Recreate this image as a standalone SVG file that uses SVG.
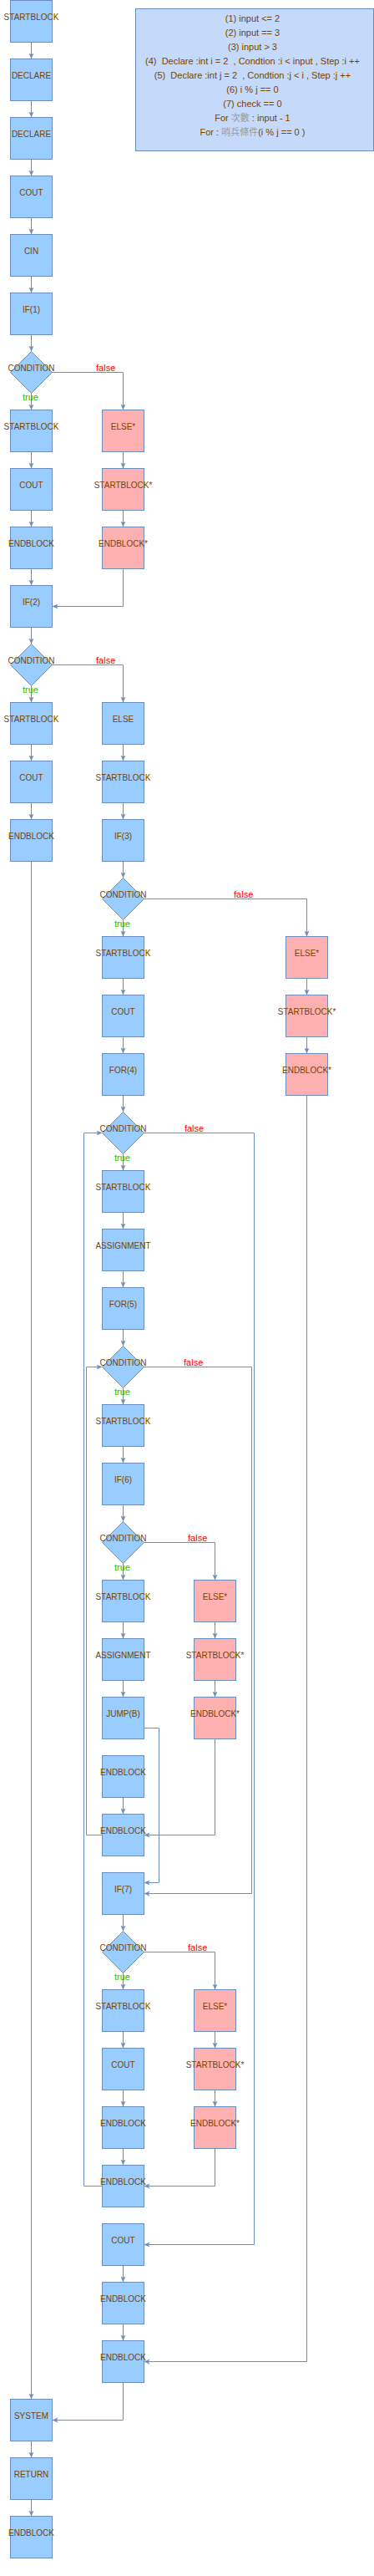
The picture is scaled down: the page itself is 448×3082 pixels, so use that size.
<svg xmlns="http://www.w3.org/2000/svg" width="448" height="3082" viewBox="0 0 448 3082">
<style>
.b{fill:#99ccff;stroke:#6c8ebf;stroke-width:1}
.p{fill:#ffb0b0;stroke:#6c8ebf;stroke-width:1}
.t{font-family:"Liberation Sans",Arial,sans-serif;font-size:10px;fill:#774400;text-anchor:middle}
.i{font-family:"Liberation Sans","Noto Sans CJK TC",sans-serif;font-size:11px;fill:#774400;text-anchor:middle;white-space:pre}
.cjk{fill:#9a9a9a}
.tr{font-family:"Liberation Sans",Arial,sans-serif;font-size:11px;fill:#00cc00;text-anchor:middle}
.fa{font-family:"Liberation Sans",Arial,sans-serif;font-size:11px;fill:#ff0000;text-anchor:middle}
.e{fill:none;stroke:#6c8ebf;stroke-width:1;marker-end:url(#a)}
</style>
<defs>
<marker id="a" markerWidth="7" markerHeight="7" viewBox="0 0 7 7" refX="7" refY="3.5" orient="auto" markerUnits="userSpaceOnUse">
<path d="M0,0.5 L7,3.5 L0,6.5 L1.75,3.5 Z" fill="#6c8ebf"/>
</marker>
</defs>
<rect width="448" height="3082" fill="#ffffff"/>

<g id="info">
<rect x="162.5" y="10.5" width="285" height="170" fill="#c5d9fb" stroke="#6c8ebf"/>
<text class="i" x="302.5" y="26">(1) input &lt;= 2</text>
<text class="i" x="302.5" y="43">(2) input == 3</text>
<text class="i" x="302.5" y="60">(3) input &gt; 3</text>
<text class="i" x="302.5" y="77">(4)  Declare :int i = 2  , Condtion :i &lt; input , Step :i ++</text>
<text class="i" x="302.5" y="94">(5)  Declare :int j = 2  , Condtion :j &lt; i , Step :j ++</text>
<text class="i" x="302.5" y="111">(6) i % j == 0</text>
<text class="i" x="302.5" y="128">(7) check == 0</text>
<text class="i" x="302.5" y="145">For <tspan class="cjk">次數</tspan> : input - 1</text>
<text class="i" x="302.5" y="162">For : <tspan class="cjk">哨兵條件</tspan>(i % j == 0 )</text>
</g>

<g id="edges">
<path class="e" d="M37.5 50.5V70.5"/>
<path class="e" d="M37.5 120.5V140.5"/>
<path class="e" d="M37.5 190.5V210.5"/>
<path class="e" d="M37.5 260.5V280.5"/>
<path class="e" d="M37.5 330.5V350.5"/>
<path class="e" d="M37.5 400.5V420.5"/>
<path class="e" d="M37.5 470.5V490.5"/>
<path class="e" d="M37.5 540.5V560.5"/>
<path class="e" d="M37.5 610.5V630.5"/>
<path class="e" d="M37.5 680.5V700.5"/>
<path class="e" d="M37.5 750.5V770.5"/>
<path class="e" d="M37.5 820.5V840.5"/>
<path class="e" d="M37.5 890.5V910.5"/>
<path class="e" d="M37.5 960.5V980.5"/>
<path class="e" d="M37.5 1030.5V2870.5"/>
<path class="e" d="M37.5 2920.5V2940.5"/>
<path class="e" d="M37.5 2990.5V3010.5"/>
<path class="e" d="M62.5 445.5H147.5V490.5"/>
<path class="e" d="M147.5 540.5V560.5"/>
<path class="e" d="M147.5 610.5V630.5"/>
<path class="e" d="M147.5 680.5V725.5H62.5"/>
<path class="e" d="M62.5 795.5H147.5V840.5"/>
<path class="e" d="M147.5 890.5V910.5"/>
<path class="e" d="M147.5 960.5V980.5"/>
<path class="e" d="M147.5 1030.5V1050.5"/>
<path class="e" d="M147.5 1100.5V1120.5"/>
<path class="e" d="M147.5 1170.5V1190.5"/>
<path class="e" d="M147.5 1240.5V1260.5"/>
<path class="e" d="M147.5 1310.5V1330.5"/>
<path class="e" d="M147.5 1380.5V1400.5"/>
<path class="e" d="M147.5 1450.5V1470.5"/>
<path class="e" d="M147.5 1520.5V1540.5"/>
<path class="e" d="M147.5 1590.5V1610.5"/>
<path class="e" d="M147.5 1660.5V1680.5"/>
<path class="e" d="M147.5 1730.5V1750.5"/>
<path class="e" d="M147.5 1800.5V1820.5"/>
<path class="e" d="M147.5 1870.5V1890.5"/>
<path class="e" d="M147.5 1940.5V1960.5"/>
<path class="e" d="M147.5 2010.5V2030.5"/>
<path class="e" d="M147.5 2150.5V2170.5"/>
<path class="e" d="M147.5 2290.5V2310.5"/>
<path class="e" d="M147.5 2360.5V2380.5"/>
<path class="e" d="M147.5 2430.5V2450.5"/>
<path class="e" d="M147.5 2500.5V2520.5"/>
<path class="e" d="M147.5 2570.5V2590.5"/>
<path class="e" d="M147.5 2710.5V2730.5"/>
<path class="e" d="M147.5 2780.5V2800.5"/>
<path class="e" d="M172.5 1075.5H367.5V1120.5"/>
<path class="e" d="M367.5 1170.5V1190.5"/>
<path class="e" d="M367.5 1240.5V1260.5"/>
<path class="e" d="M367.5 1310.5V2825.5H172.5"/>
<path class="e" d="M172.5 1355.5H304.5V2685.5H172.5"/>
<path class="e" d="M172.5 1635.5H301.5V2265.5H172.5"/>
<path class="e" d="M172.5 1845.5H257.5V1890.5"/>
<path class="e" d="M257.5 1940.5V1960.5"/>
<path class="e" d="M257.5 2010.5V2030.5"/>
<path class="e" d="M257.5 2080.5V2195.5H172.5"/>
<path class="e" d="M172.5 2067.5H190.5V2252.5H172.5"/>
<path class="e" d="M122.5 2195.5H103.5V1635.5H122.5"/>
<path class="e" d="M172.5 2335.5H257.5V2380.5"/>
<path class="e" d="M257.5 2430.5V2450.5"/>
<path class="e" d="M257.5 2500.5V2520.5"/>
<path class="e" d="M257.5 2570.5V2615.5H172.5"/>
<path class="e" d="M122.5 2615.5H100.5V1355.5H122.5"/>
<path class="e" d="M147.5 2850.5V2895.5H62.5"/>
</g>

<g id="edge-labels">
<text class="tr" x="36.5" y="479">true</text>
<text class="tr" x="36.5" y="829">true</text>
<text class="tr" x="146.5" y="1109">true</text>
<text class="tr" x="146.5" y="1389">true</text>
<text class="tr" x="146.5" y="1669">true</text>
<text class="tr" x="146.5" y="1879">true</text>
<text class="tr" x="146.5" y="2369">true</text>
<text class="fa" x="126.7" y="444">false</text>
<text class="fa" x="126.7" y="794">false</text>
<text class="fa" x="291.7" y="1074">false</text>
<text class="fa" x="232.5" y="1354">false</text>
<text class="fa" x="231.7" y="1634">false</text>
<text class="fa" x="236.7" y="1844">false</text>
<text class="fa" x="236.7" y="2334">false</text>
</g>

<g id="n0"><rect class="b" x="12.5" y="0.5" width="50" height="50"/><text class="t" x="37.5" y="24">STARTBLOCK</text></g>
<g id="n1"><rect class="b" x="12.5" y="70.5" width="50" height="50"/><text class="t" x="37.5" y="94">DECLARE</text></g>
<g id="n2"><rect class="b" x="12.5" y="140.5" width="50" height="50"/><text class="t" x="37.5" y="164">DECLARE</text></g>
<g id="n3"><rect class="b" x="12.5" y="210.5" width="50" height="50"/><text class="t" x="37.5" y="234">COUT</text></g>
<g id="n4"><rect class="b" x="12.5" y="280.5" width="50" height="50"/><text class="t" x="37.5" y="304">CIN</text></g>
<g id="n5"><rect class="b" x="12.5" y="350.5" width="50" height="50"/><text class="t" x="37.5" y="374">IF(1)</text></g>
<g id="n6"><polygon class="b" points="37.5,420.5 62.5,445.5 37.5,470.5 12.5,445.5"/><text class="t" x="37.5" y="444">CONDITION</text></g>
<g id="n7"><rect class="b" x="12.5" y="490.5" width="50" height="50"/><text class="t" x="37.5" y="514">STARTBLOCK</text></g>
<g id="n7b"><rect class="p" x="122.5" y="490.5" width="50" height="50"/><text class="t" x="147.5" y="514">ELSE*</text></g>
<g id="n8"><rect class="b" x="12.5" y="560.5" width="50" height="50"/><text class="t" x="37.5" y="584">COUT</text></g>
<g id="n8b"><rect class="p" x="122.5" y="560.5" width="50" height="50"/><text class="t" x="147.5" y="584">STARTBLOCK*</text></g>
<g id="n9"><rect class="b" x="12.5" y="630.5" width="50" height="50"/><text class="t" x="37.5" y="654">ENDBLOCK</text></g>
<g id="n9b"><rect class="p" x="122.5" y="630.5" width="50" height="50"/><text class="t" x="147.5" y="654">ENDBLOCK*</text></g>
<g id="n10"><rect class="b" x="12.5" y="700.5" width="50" height="50"/><text class="t" x="37.5" y="724">IF(2)</text></g>
<g id="n11"><polygon class="b" points="37.5,770.5 62.5,795.5 37.5,820.5 12.5,795.5"/><text class="t" x="37.5" y="794">CONDITION</text></g>
<g id="n12"><rect class="b" x="12.5" y="840.5" width="50" height="50"/><text class="t" x="37.5" y="864">STARTBLOCK</text></g>
<g id="n12b"><rect class="b" x="122.5" y="840.5" width="50" height="50"/><text class="t" x="147.5" y="864">ELSE</text></g>
<g id="n13"><rect class="b" x="12.5" y="910.5" width="50" height="50"/><text class="t" x="37.5" y="934">COUT</text></g>
<g id="n13b"><rect class="b" x="122.5" y="910.5" width="50" height="50"/><text class="t" x="147.5" y="934">STARTBLOCK</text></g>
<g id="n14"><rect class="b" x="12.5" y="980.5" width="50" height="50"/><text class="t" x="37.5" y="1004">ENDBLOCK</text></g>
<g id="n14b"><rect class="b" x="122.5" y="980.5" width="50" height="50"/><text class="t" x="147.5" y="1004">IF(3)</text></g>
<g id="n15"><polygon class="b" points="147.5,1050.5 172.5,1075.5 147.5,1100.5 122.5,1075.5"/><text class="t" x="147.5" y="1074">CONDITION</text></g>
<g id="n16"><rect class="b" x="122.5" y="1120.5" width="50" height="50"/><text class="t" x="147.5" y="1144">STARTBLOCK</text></g>
<g id="n16d"><rect class="p" x="342.5" y="1120.5" width="50" height="50"/><text class="t" x="367.5" y="1144">ELSE*</text></g>
<g id="n17"><rect class="b" x="122.5" y="1190.5" width="50" height="50"/><text class="t" x="147.5" y="1214">COUT</text></g>
<g id="n17d"><rect class="p" x="342.5" y="1190.5" width="50" height="50"/><text class="t" x="367.5" y="1214">STARTBLOCK*</text></g>
<g id="n18"><rect class="b" x="122.5" y="1260.5" width="50" height="50"/><text class="t" x="147.5" y="1284">FOR(4)</text></g>
<g id="n18d"><rect class="p" x="342.5" y="1260.5" width="50" height="50"/><text class="t" x="367.5" y="1284">ENDBLOCK*</text></g>
<g id="n19"><polygon class="b" points="147.5,1330.5 172.5,1355.5 147.5,1380.5 122.5,1355.5"/><text class="t" x="147.5" y="1354">CONDITION</text></g>
<g id="n20"><rect class="b" x="122.5" y="1400.5" width="50" height="50"/><text class="t" x="147.5" y="1424">STARTBLOCK</text></g>
<g id="n21"><rect class="b" x="122.5" y="1470.5" width="50" height="50"/><text class="t" x="147.5" y="1494">ASSIGNMENT</text></g>
<g id="n22"><rect class="b" x="122.5" y="1540.5" width="50" height="50"/><text class="t" x="147.5" y="1564">FOR(5)</text></g>
<g id="n23"><polygon class="b" points="147.5,1610.5 172.5,1635.5 147.5,1660.5 122.5,1635.5"/><text class="t" x="147.5" y="1634">CONDITION</text></g>
<g id="n24"><rect class="b" x="122.5" y="1680.5" width="50" height="50"/><text class="t" x="147.5" y="1704">STARTBLOCK</text></g>
<g id="n25"><rect class="b" x="122.5" y="1750.5" width="50" height="50"/><text class="t" x="147.5" y="1774">IF(6)</text></g>
<g id="n26"><polygon class="b" points="147.5,1820.5 172.5,1845.5 147.5,1870.5 122.5,1845.5"/><text class="t" x="147.5" y="1844">CONDITION</text></g>
<g id="n27"><rect class="b" x="122.5" y="1890.5" width="50" height="50"/><text class="t" x="147.5" y="1914">STARTBLOCK</text></g>
<g id="n27c"><rect class="p" x="232.5" y="1890.5" width="50" height="50"/><text class="t" x="257.5" y="1914">ELSE*</text></g>
<g id="n28"><rect class="b" x="122.5" y="1960.5" width="50" height="50"/><text class="t" x="147.5" y="1984">ASSIGNMENT</text></g>
<g id="n28c"><rect class="p" x="232.5" y="1960.5" width="50" height="50"/><text class="t" x="257.5" y="1984">STARTBLOCK*</text></g>
<g id="n29"><rect class="b" x="122.5" y="2030.5" width="50" height="50"/><text class="t" x="147.5" y="2054">JUMP(B)</text></g>
<g id="n29c"><rect class="p" x="232.5" y="2030.5" width="50" height="50"/><text class="t" x="257.5" y="2054">ENDBLOCK*</text></g>
<g id="n30"><rect class="b" x="122.5" y="2100.5" width="50" height="50"/><text class="t" x="147.5" y="2124">ENDBLOCK</text></g>
<g id="n31"><rect class="b" x="122.5" y="2170.5" width="50" height="50"/><text class="t" x="147.5" y="2194">ENDBLOCK</text></g>
<g id="n32"><rect class="b" x="122.5" y="2240.5" width="50" height="50"/><text class="t" x="147.5" y="2264">IF(7)</text></g>
<g id="n33"><polygon class="b" points="147.5,2310.5 172.5,2335.5 147.5,2360.5 122.5,2335.5"/><text class="t" x="147.5" y="2334">CONDITION</text></g>
<g id="n34"><rect class="b" x="122.5" y="2380.5" width="50" height="50"/><text class="t" x="147.5" y="2404">STARTBLOCK</text></g>
<g id="n34c"><rect class="p" x="232.5" y="2380.5" width="50" height="50"/><text class="t" x="257.5" y="2404">ELSE*</text></g>
<g id="n35"><rect class="b" x="122.5" y="2450.5" width="50" height="50"/><text class="t" x="147.5" y="2474">COUT</text></g>
<g id="n35c"><rect class="p" x="232.5" y="2450.5" width="50" height="50"/><text class="t" x="257.5" y="2474">STARTBLOCK*</text></g>
<g id="n36"><rect class="b" x="122.5" y="2520.5" width="50" height="50"/><text class="t" x="147.5" y="2544">ENDBLOCK</text></g>
<g id="n36c"><rect class="p" x="232.5" y="2520.5" width="50" height="50"/><text class="t" x="257.5" y="2544">ENDBLOCK*</text></g>
<g id="n37"><rect class="b" x="122.5" y="2590.5" width="50" height="50"/><text class="t" x="147.5" y="2614">ENDBLOCK</text></g>
<g id="n38"><rect class="b" x="122.5" y="2660.5" width="50" height="50"/><text class="t" x="147.5" y="2684">COUT</text></g>
<g id="n39"><rect class="b" x="122.5" y="2730.5" width="50" height="50"/><text class="t" x="147.5" y="2754">ENDBLOCK</text></g>
<g id="n40"><rect class="b" x="122.5" y="2800.5" width="50" height="50"/><text class="t" x="147.5" y="2824">ENDBLOCK</text></g>
<g id="n41"><rect class="b" x="12.5" y="2870.5" width="50" height="50"/><text class="t" x="37.5" y="2894">SYSTEM</text></g>
<g id="n42"><rect class="b" x="12.5" y="2940.5" width="50" height="50"/><text class="t" x="37.5" y="2964">RETURN</text></g>
<g id="n43"><rect class="b" x="12.5" y="3010.5" width="50" height="50"/><text class="t" x="37.5" y="3034">ENDBLOCK</text></g>
</svg>
